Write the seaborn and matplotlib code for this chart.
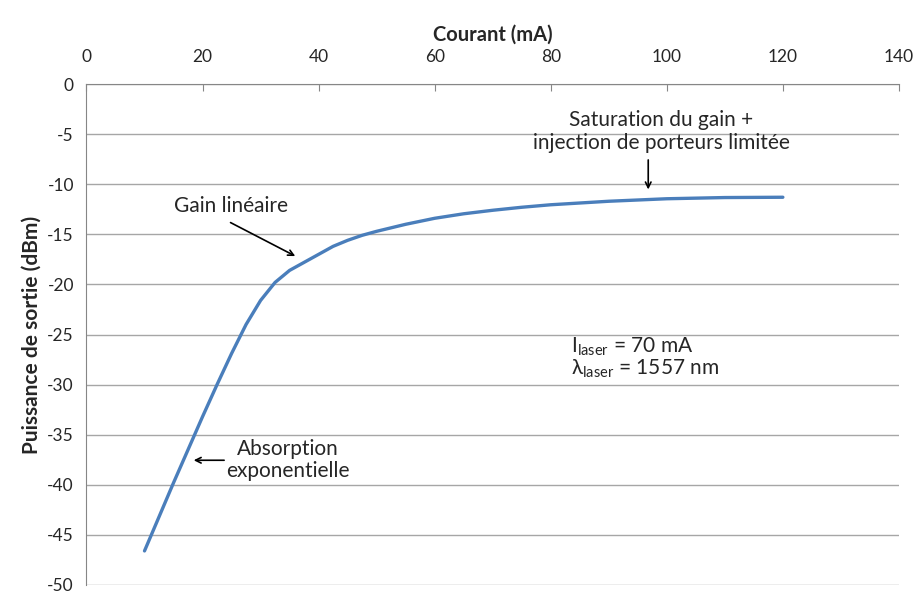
import pandas as pd
import seaborn as sns
import matplotlib.pyplot as plt

# courant (mA) et puissance de sortie (dBm)
courant = [10, 12.5, 15, 17.5, 20, 22.5, 25, 27.5, 30, 32.5, 35, 37.5, 40, 42.5, 45,
           47.5, 50, 55, 60, 65, 70, 75, 80, 90, 100, 110, 120]
puissance = [-46.6, -43.2, -39.8, -36.5, -33.2, -30.0, -26.9, -24.0, -21.6, -19.8,
             -18.6, -17.8, -17.0, -16.2, -15.6, -15.1, -14.7, -14.0, -13.4, -12.95,
             -12.6, -12.3, -12.05, -11.7, -11.45, -11.33, -11.3]
xticks = [0, 20, 40, 60, 80, 100, 120, 140]
yticks = [0, -5, -10, -15, -20, -25, -30, -35, -40, -45, -50]

df = pd.DataFrame({'courant': courant, 'puissance': puissance})

sns.set_style('white')
plt.rcParams['font.family'] = ['Lato', 'DejaVu Sans']
plt.rcParams['axes.unicode_minus'] = False

fig = plt.figure(figsize=(9.17, 5.93), dpi=100)
ax = fig.add_axes([0.0943, 0.0135, 0.886, 0.8448])

sns.lineplot(data=df, x='courant', y='puissance', color='#4A7EBB', linewidth=2.4, ax=ax)

ax.set_xlim(0, 140)
ax.set_ylim(-50, 0)
ax.set_xticks(xticks)
ax.set_yticks(yticks)
ax.xaxis.tick_top()
ax.xaxis.set_label_position('top')
ax.tick_params(axis='x', direction='in', length=5, color='#868686', labelsize=12.5, pad=14)
ax.tick_params(axis='y', direction='out', length=5, color='#868686', labelsize=12.5, pad=4)
ax.yaxis.grid(True, color='#A6A6A6', linewidth=1)
ax.set_axisbelow(True)
for s in ['right', 'bottom']:
    ax.spines[s].set_visible(False)
for s in ['left', 'top']:
    ax.spines[s].set_color('#868686')

ax.set_xlabel('Courant (mA)', fontsize=14.5, fontweight='bold', labelpad=6)
ax.set_ylabel('Puissance de sortie (dBm)', fontsize=15, fontweight='bold', labelpad=4)

arrow = dict(arrowstyle='->', color='black', lw=1.2)
ax.text(99.0, -4.75, 'Saturation du gain +\ninjection de porteurs limitée',
        ha='center', va='center', fontsize=15, linespacing=1.15)
ax.annotate('', xy=(96.8, -10.8), xytext=(96.8, -7.3), arrowprops=arrow)
ax.text(24.9, -12.2, 'Gain linéaire', ha='center', va='center', fontsize=15)
ax.annotate('', xy=(36.4, -17.3), xytext=(24.4, -13.7), arrowprops=arrow)
ax.text(34.7, -37.55, 'Absorption\nexponentielle', ha='center', va='center',
        fontsize=15, linespacing=1.15)
ax.annotate('', xy=(18.0, -37.55), xytext=(24.2, -37.55), arrowprops=arrow)
ax.text(83.5, -27.3, '$\\mathregular{I_{laser}}$ = 70 mA\n$\\mathregular{λ_{laser}}$ = 1557 nm',
        ha='left', va='center', fontsize=15, linespacing=1.0)

fig.savefig('out.png', dpi=100)
